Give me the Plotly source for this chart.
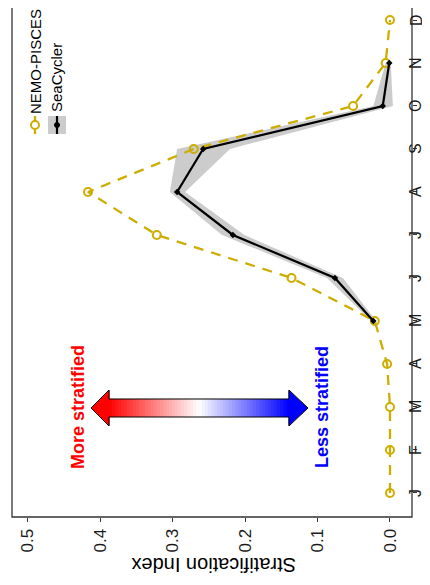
import plotly.graph_objects as go

# ---------------- data ----------------
month_labels = ["J", "F", "M", "A", "M", "J", "J", "A", "S", "O", "N", "D"]
month_num = list(range(1, 13))
nemo = [0.0, 0.0, 0.0, 0.004, 0.021, 0.136, 0.322, 0.417, 0.271, 0.051, 0.006, 0.0]
sea_months = [5, 6, 7, 8, 9, 10, 11]
sea = [0.023, 0.076, 0.217, 0.294, 0.258, 0.010, 0.001]
sea_low = [0.019, 0.065, 0.201, 0.283, 0.221, -0.004, -0.001]
sea_high = [0.026, 0.087, 0.232, 0.304, 0.294, 0.023, 0.006]
x_ticks = [0.0, 0.1, 0.2, 0.3, 0.4, 0.5]
x_ticktext = ["0.0", "0.1", "0.2", "0.3", "0.4", "0.5"]

GOLD = "#CDAD00"
FONT = "Liberation Sans, Arial, sans-serif"

# page has an 8px body margin: the figure is shrunk so it fits the 430x585 window
OFF = 8
W, H = 430 - OFF, 585 - OFF
# panel edges in window pixels
PL, PR, PT, PB = 12, 412, OFF, 517


def px(x):
    return (x - PL) / (PR - PL)


def py(y):
    return (PB - y) / (PB - PT)


fig = go.Figure()

# ribbon
fig.add_trace(go.Scatter(
    x=sea_high + sea_low[::-1], y=sea_months + sea_months[::-1],
    fill="toself", fillcolor="#CCCCCC", line=dict(width=0),
    mode="lines", hoverinfo="skip", showlegend=False))

fig.add_trace(go.Scatter(
    x=nemo, y=month_num, mode="lines+markers",
    line=dict(color=GOLD, width=2.3, dash="10px,8px"),
    marker=dict(symbol="circle-open", size=8, color=GOLD, line=dict(width=2)),
    showlegend=False))

fig.add_trace(go.Scatter(
    x=sea, y=sea_months, mode="lines+markers",
    line=dict(color="black", width=2.2),
    marker=dict(symbol="diamond", size=5, color="black"),
    showlegend=False))

shapes = []
# panel border (top edge outside figure)
shapes.append(dict(type="rect", xref="paper", yref="paper", x0=0, x1=1, y0=0, y1=1.05,
                   line=dict(color="#333333", width=1.3), fillcolor="rgba(0,0,0,0)", layer="above"))

# gradient arrow
ax0, ax1 = 109, 289
ay0, ay1 = 399, 417
n = 60
for i in range(n):
    t0 = i / n
    t1 = (i + 1) / n
    t = (t0 + t1) / 2
    if t < 0.5:
        f = t / 0.5
        r, g, b = 255, int(255 * f), int(255 * f)
    else:
        f = (t - 0.5) / 0.5
        r, g, b = int(255 * (1 - f)), int(255 * (1 - f)), 255
    x0 = ax0 + (ax1 - ax0) * t0
    x1 = ax0 + (ax1 - ax0) * t1 + 0.6
    shapes.append(dict(type="rect", xref="paper", yref="paper",
                       x0=px(x0), x1=px(x1), y0=py(ay1), y1=py(ay0),
                       line=dict(width=0), fillcolor=f"rgb({r},{g},{b})"))


def path(pts):
    return "M " + " L ".join(f"{px(a):.5f},{py(b):.5f}" for a, b in pts) + " Z"


shapes.append(dict(type="path", xref="paper", yref="paper",
                   path=path([(91, 408), (109.5, 390), (109.5, 426)]),
                   fillcolor="rgb(255,0,0)", line=dict(width=0)))
shapes.append(dict(type="path", xref="paper", yref="paper",
                   path=path([(308, 408), (288.5, 390), (288.5, 426)]),
                   fillcolor="rgb(0,0,255)", line=dict(width=0)))
shapes.append(dict(type="path", xref="paper", yref="paper",
                   path=path([(91, 408), (109, 390), (109, 399), (289, 399), (289, 390), (308, 408),
                              (289, 426), (289, 417), (109, 417), (109, 426)]),
                   fillcolor="rgba(0,0,0,0)", line=dict(color="black", width=1)))

# legend keys
kx1, kx2, ky = 35, 57, 125
shapes.append(dict(type="line", xref="paper", yref="paper", x0=px(kx1), x1=px(kx1),
                   y0=py(ky - 9), y1=py(ky + 9), line=dict(color=GOLD, width=2.3)))
shapes.append(dict(type="circle", xref="paper", yref="paper", x0=px(kx1 - 4), x1=px(kx1 + 4),
                   y0=py(ky + 4), y1=py(ky - 4), line=dict(color=GOLD, width=2), fillcolor="white"))
shapes.append(dict(type="rect", xref="paper", yref="paper", x0=px(kx2 - 9), x1=px(kx2 + 9),
                   y0=py(ky + 9), y1=py(ky - 9), line=dict(width=0), fillcolor="#CCCCCC"))
shapes.append(dict(type="line", xref="paper", yref="paper", x0=px(kx2), x1=px(kx2),
                   y0=py(ky - 9), y1=py(ky + 9), line=dict(color="black", width=2.2)))
shapes.append(dict(type="circle", xref="paper", yref="paper", x0=px(kx2 - 2.5), x1=px(kx2 + 2.5),
                   y0=py(ky + 2.5), y1=py(ky - 2.5), line=dict(color="black", width=1), fillcolor="black"))

annotations = [
    dict(text="Stratification Index", xref="paper", yref="paper", x=px(213), y=py(565),
         xanchor="center", yanchor="middle", textangle=180, showarrow=False,
         font=dict(family=FONT, size=20, color="black")),
    dict(text="<b>More stratified</b>", xref="paper", yref="paper", x=px(78), y=py(407),
         xanchor="center", yanchor="middle", textangle=-90, showarrow=False,
         font=dict(family=FONT, size=18, color="#FF0000")),
    dict(text="<b>Less stratified</b>", xref="paper", yref="paper", x=px(322), y=py(407),
         xanchor="center", yanchor="middle", textangle=-90, showarrow=False,
         font=dict(family=FONT, size=18, color="#0000FF")),
    dict(text="NEMO-PISCES", xref="paper", yref="paper", x=px(kx1), y=py(62),
         xanchor="center", yanchor="middle", textangle=-90, showarrow=False,
         font=dict(family=FONT, size=15, color="black")),
    dict(text="SeaCycler", xref="paper", yref="paper", x=px(kx2), y=py(78),
         xanchor="center", yanchor="middle", textangle=-90, showarrow=False,
         font=dict(family=FONT, size=15, color="black")),
]
# month tick labels (rotated, placed just right of the panel)
for m, lab in zip(month_num, month_labels):
    annotations.append(dict(text=lab, xref="paper", yref="y", x=px(416), y=m,
                            xanchor="center", yanchor="middle", textangle=-90, showarrow=False,
                            font=dict(family=FONT, size=16, color="#1a1a1a")))

y_top = 1 + (493 - PT) / 43.0
fig.update_layout(
    width=W, height=H,
    margin=dict(l=PL - OFF, r=(W + OFF) - PR, t=0, b=(H + OFF) - PB),
    paper_bgcolor="white", plot_bgcolor="white",
    shapes=shapes, annotations=annotations,
    showlegend=False,
    xaxis=dict(range=[0.522, -0.0304], tickvals=x_ticks, ticktext=x_ticktext,
               tickangle=-90, ticks="outside", ticklen=4, tickcolor="#333333",
               showgrid=False, zeroline=False, showline=False,
               tickfont=dict(family=FONT, size=17, color="#1a1a1a")),
    yaxis=dict(range=[0.44, y_top], tickvals=month_num, showticklabels=False,
               side="right", ticks="outside", ticklen=4, tickcolor="#333333",
               showgrid=False, zeroline=False, showline=False),
)

fig.write_html("out.html")
